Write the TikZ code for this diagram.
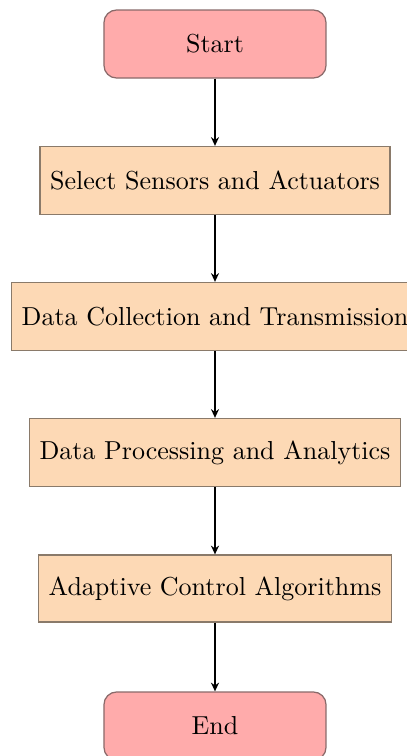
\documentclass[tikz,border=0pt]{standalone}
\usetikzlibrary{arrows.meta}
\definecolor{termfill}{HTML}{FFABAB}
\definecolor{termdraw}{HTML}{8A6A6A}
\definecolor{procfill}{HTML}{FDD9B5}
\definecolor{procdraw}{HTML}{8A7A6A}
\tikzset{
  px/.style={x=0.4pt,y=-0.4pt},
  termbox/.style={draw=termdraw, fill=termfill, rounded corners=5pt, line width=0.5pt,
    minimum width=222*0.4pt, minimum height=68*0.4pt, inner sep=0pt, font=\fontsize{10.4}{12}\selectfont},
  procbox/.style={draw=procdraw, fill=procfill, line width=0.5pt,
    minimum height=68*0.4pt, inner sep=4pt, font=\fontsize{10.4}{12}\selectfont},
  flow/.style={-{Stealth[length=3.5pt,width=3.2pt]}, line width=0.7pt, black}
}
\begin{document}
\begin{tikzpicture}[px]
\path[use as bounding box, clip] (0,0) rectangle (407,756);
\fill[white] (0,0) rectangle (407,756);
\node[termbox] (start) at (215,44) {Start};
\node[procbox, minimum width=348*0.4pt] (sel) at (215,180.5) {Select Sensors and Actuators};
\node[procbox, minimum width=406*0.4pt] (coll) at (215,316.5) {Data Collection and Transmission};
\node[procbox, minimum width=369*0.4pt] (proc) at (215,452.5) {Data Processing and Analytics};
\node[procbox, minimum width=353*0.4pt, minimum height=67*0.4pt] (adapt) at (215,588.5) {Adaptive Control Algorithms};
\node[termbox] (end) at (215,726) {End};
\draw[flow] (start) -- (sel);
\draw[flow] (sel) -- (coll);
\draw[flow] (coll) -- (proc);
\draw[flow] (proc) -- (adapt);
\draw[flow] (adapt) -- (end);
\end{tikzpicture}
\end{document}
